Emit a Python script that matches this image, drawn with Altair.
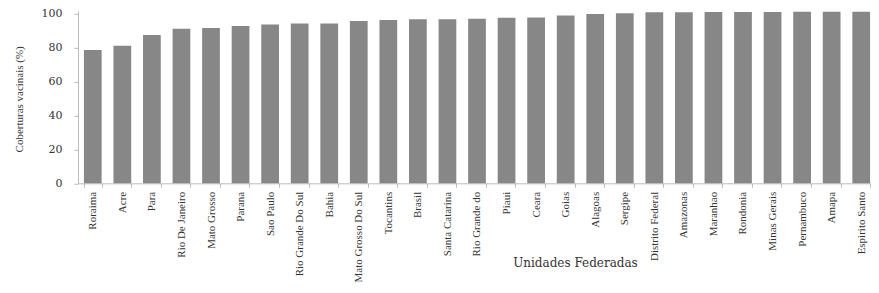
import altair as alt
import pandas as pd

estados = ["Roraima", "Acre", "Para", "Rio De Janeiro", "Mato Grosso", "Parana",
           "Sao Paulo", "Rio Grande Do Sul", "Bahia", "Mato Grosso Do Sul",
           "Tocantins", "Brasil", "Santa Catarina", "Rio Grande do", "Piaui",
           "Ceara", "Goias", "Alagoas", "Sergipe", "Distrito Federal", "Amazonas",
           "Maranhao", "Rondonia", "Minas Gerais", "Pernambuco", "Amapa",
           "Espirito Santo"]
coberturas = [78.4, 80.9, 87.2, 90.9, 91.4, 92.5, 93.5, 94.1, 94.1, 95.5,
              96.1, 96.5, 96.6, 96.8, 97.4, 97.6, 98.8, 99.6, 100.0, 100.6,
              100.6, 100.8, 100.8, 100.8, 101.0, 101.0, 101.0]
y_ticks = [0, 20, 40, 60, 80, 100]

df = pd.DataFrame({"estado": estados, "cobertura": coberturas})

chart = alt.Chart(df).mark_bar(color="#878787").encode(
    x=alt.X("estado:N", sort=None,
            scale=alt.Scale(range=[0, 798], paddingInner=0.4, paddingOuter=0.2),
            axis=alt.Axis(title="Unidades Federadas", labelAngle=-90,
                          labelFont="Liberation Serif", labelFontSize=11,
                          labelColor="#333333", labelPadding=4,
                          tickBand="extent", tickSize=4, tickColor="#bbbbbb",
                          domainColor="#bbbbbb",
                          titleFont="DejaVu Serif", titleFontSize=12,
                          titleFontWeight="normal", titleColor="#333333",
                          titleX=497, titleY=79, titleBaseline="middle",
                          titleAlign="center", labelOverlap=False)),
    y=alt.Y("cobertura:Q",
            scale=alt.Scale(domain=[0, 101.5], nice=False, zero=True),
            axis=alt.Axis(title="Coberturas vacinais (%)", values=y_ticks,
                          grid=False, labelFont="DejaVu Serif", labelFontSize=11,
                          labelColor="#333333", labelPadding=12, tickSize=4,
                          tickColor="#bbbbbb", domainColor="#bbbbbb",
                          titleFont="Liberation Serif", titleFontSize=11,
                          titleFontWeight="normal", titleColor="#333333",
                          titleX=-59, titleY=88, titleAngle=-90,
                          titleBaseline="middle", titleAlign="center")),
).properties(
    width=793,
    height=172.5,
    autosize=alt.AutoSizeParams(type="none"),
    padding={"left": 70, "top": 2.8, "right": 0, "bottom": 102},
).configure_view(stroke=None)

chart.save("out.html", embed_options={"renderer": "svg", "actions": False})
